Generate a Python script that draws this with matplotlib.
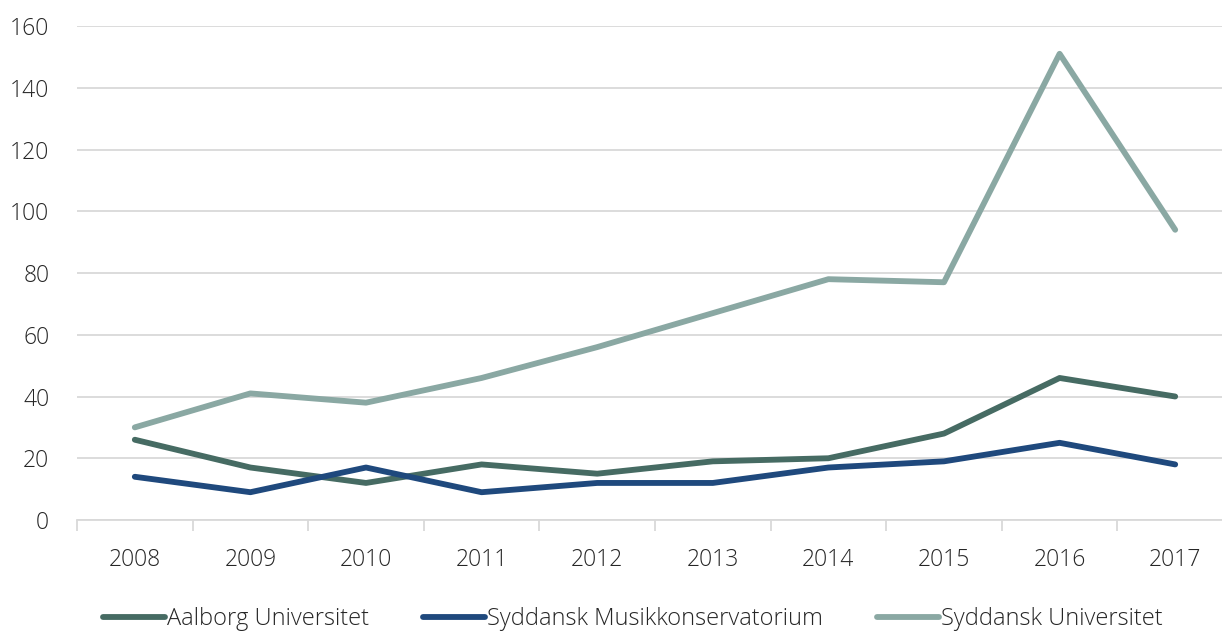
import matplotlib.pyplot as plt
import numpy as np

years = ["2008", "2009", "2010", "2011", "2012", "2013", "2014", "2015", "2016", "2017"]
aau = [26, 17, 12, 18, 15, 19, 20, 28, 46, 40]
sdmk = [14, 9, 17, 9, 12, 12, 17, 19, 25, 18]
sdu = [30, 41, 38, 46, 56, 67, 78, 77, 151, 94]

series = [
    ("Aalborg Universitet", aau, "#466b63"),
    ("Syddansk Musikkonservatorium", sdmk, "#1f497d"),
    ("Syddansk Universitet", sdu, "#8aa8a3"),
]

plt.rcParams["font.family"] = ["Open Sans", "DejaVu Sans"]

W, H = 1222, 632
fig = plt.figure(figsize=(W / 100, H / 100), dpi=100)
ax = fig.add_axes([77 / W, 1 - 520 / H, (1233 - 77) / W, (520 - 26) / H])

x = np.arange(len(years))
for name, vals, color in series:
    ax.plot(x, vals, color=color, lw=4.2, label=name, solid_capstyle="round",
            solid_joinstyle="round")

ax.set_xlim(-0.5, len(years) - 0.5)
ax.set_ylim(0, 160)
ax.set_yticks(range(0, 161, 20))
ax.set_xticks(x)
ax.set_xticklabels(years)
ax.set_xticks(np.arange(-0.5, len(years), 1), minor=True)
ax.grid(axis="y", color="#d9d9d9", lw=1.3)
ax.set_axisbelow(True)
for s in ["top", "right", "left"]:
    ax.spines[s].set_visible(False)
ax.spines["bottom"].set_color("#d9d9d9")
ax.spines["bottom"].set_linewidth(1.3)
ax.tick_params(axis="y", length=0, pad=20, labelsize=16.5, labelcolor="#262626")
ax.tick_params(axis="x", which="major", length=0, pad=20, labelsize=16.5, labelcolor="#262626")
ax.tick_params(axis="x", which="minor", length=8, width=1.3, color="#d9d9d9")
for lab in ax.get_xticklabels() + ax.get_yticklabels():
    lab.set_fontweight("light")

leg = fig.legend(loc="lower center", bbox_to_anchor=(0.518, -0.032), ncol=3, frameon=False,
                 fontsize=17, handlelength=2.6, handletextpad=0.1, columnspacing=2.3)
for t in leg.get_texts():
    t.set_color("#262626")
    t.set_fontweight("light")

fig.savefig("out.png", dpi=100)
